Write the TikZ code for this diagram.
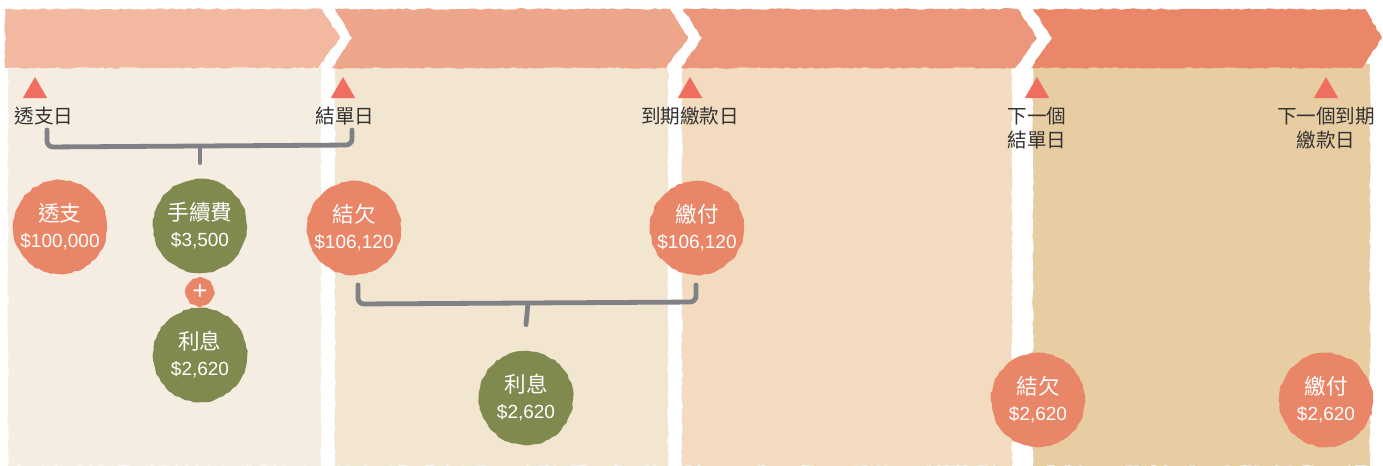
\documentclass[tikz,border=0pt]{standalone}
\usepackage{fontspec}
\setmainfont{Noto Sans CJK TC}
\newfontfamily\numfont{Liberation Sans}
\usetikzlibrary{positioning,shapes.geometric,decorations.pathmorphing}

\definecolor{band1}{RGB}{243,184,160}
\definecolor{band2}{RGB}{238,166,138}
\definecolor{band3}{RGB}{236,151,123}
\definecolor{band4}{RGB}{233,135,104}
\definecolor{col1}{RGB}{245,237,225}
\definecolor{col2}{RGB}{242,230,208}
\definecolor{col3}{RGB}{242,219,190}
\definecolor{col4}{RGB}{232,204,162}
\definecolor{debt}{RGB}{234,134,104}
\definecolor{cost}{RGB}{128,137,78}
\definecolor{tri}{RGB}{240,110,95}
\definecolor{ink}{RGB}{51,51,51}
\definecolor{brc}{RGB}{128,129,134}

\newcommand{\amount}[1]{{\numfont\fontsize{9.5}{13}\selectfont #1}}

\tikzset{
  rough/.style={decorate,decoration={random steps,segment length=2pt,amplitude=0.4pt}},
  bubble/.style={circle,fill=#1,rough,minimum size=47pt,inner sep=0pt,
    align=center,text=white,font=\fontsize{10.8}{13}\selectfont},
  marker/.style={regular polygon,regular polygon sides=3,fill=tri,
    minimum size=14pt,inner sep=0pt},
  datelbl/.style={align=center,text=ink,font=\fontsize{9.8}{12}\selectfont},
  brace/.style={draw=brc,line width=2.4pt,rounded corners=3pt,line cap=round}
}

\begin{document}
\begin{tikzpicture}
    [x=0.5pt,y=-0.5pt,node distance=2cm,on grid]
\pgfmathsetseed{7}
\useasboundingbox (0,0) rectangle (1383,466);
\fill[white] (0,0) rectangle (1383,466);

% columns
\fill[col1,rough] (8,64) rectangle (321,466);
\fill[col2,rough] (335,64) rectangle (668,466);
\fill[col3,rough] (682,64) rectangle (1012,466);
\fill[col4,rough] (1033,64) rectangle (1370,466);

% header arrows
\fill[band1,rough] (5,9) -- (322,9) -- (340,38) -- (318,68) -- (5,68) -- cycle;
\fill[band2,rough] (335,9) -- (670,9) -- (688,38) -- (666,68) -- (332,68) -- (352,38) -- cycle;
\fill[band3,rough] (683,9) -- (1018,9) -- (1037,38) -- (1015,68) -- (681,68) -- (702,38) -- cycle;
\fill[band4,rough] (1033,9) -- (1365,9) -- (1382,38) -- (1362,68) -- (1031,68) -- (1052,38) -- cycle;

% dates
\node[marker](mOver) at (35,91){};
\node[marker](mStmt) at (343,91){};
\node[marker](mDue) at (690,91){};
\node[marker](mNStmt) at (1037,91){};
\node[marker](mNDue) at (1326,91){};

\node[datelbl](dOver)[below = 12.5pt of mOver,xshift=4.5pt]{透支日};
\node[datelbl](dStmt)[below = 12.5pt of mStmt,xshift=1pt]{結單日};
\node[datelbl](dDue)[below = 12.5pt of mDue]{到期繳款日};
\node[datelbl](dNStmt)[below = 18.5pt of mNStmt]{下一個\\結單日};
\node[datelbl](dNDue)[below = 18.5pt of mNDue]{下一個到期\\繳款日};

% amounts
\node[bubble=debt](over) at (60,227){透支\\\amount{\$100,000}};
\node[bubble=cost](fee) at (200,226){手續費\\\amount{\$3,500}};
\node[circle,fill=debt,rough,minimum size=14pt,inner sep=0pt,text=white](plus)[below = 33pt of fee]{\numfont\fontsize{13}{13}\selectfont +};
\node[bubble=cost](int1)[below = 64.5pt of fee]{利息\\\amount{\$2,620}};
\node[bubble=debt](stmt) at (354,228){結欠\\\amount{\$106,120}};
\node[bubble=debt](pay)[right = 171.5pt of stmt]{繳付\\\amount{\$106,120}};
\node[bubble=cost](int2) at (526,398){利息\\\amount{\$2,620}};
\node[bubble=debt](nstmt) at (1038,400){結欠\\\amount{\$2,620}};
\node[bubble=debt](npay)[right = 144pt of nstmt]{繳付\\\amount{\$2,620}};

% braces
\coordinate (b1l) at (47,130);
\coordinate (b1r) at (352,130);
\coordinate (b1m) at (200,146);
\draw[brace] (b1l) -- (47,147) -- (352,145) -- (b1r);
\draw[brace] (b1m) -- ([yshift=8pt]fee.north);

\coordinate (b2l) at (358,285);
\coordinate (b2r) at (696,285);
\coordinate (b2m) at (528,303);
\draw[brace] (b2l) -- (358,304) -- (696,302) -- (b2r);
\draw[brace] (b2m) -- ([yshift=13pt]int2.north);
\end{tikzpicture}
\end{document}
